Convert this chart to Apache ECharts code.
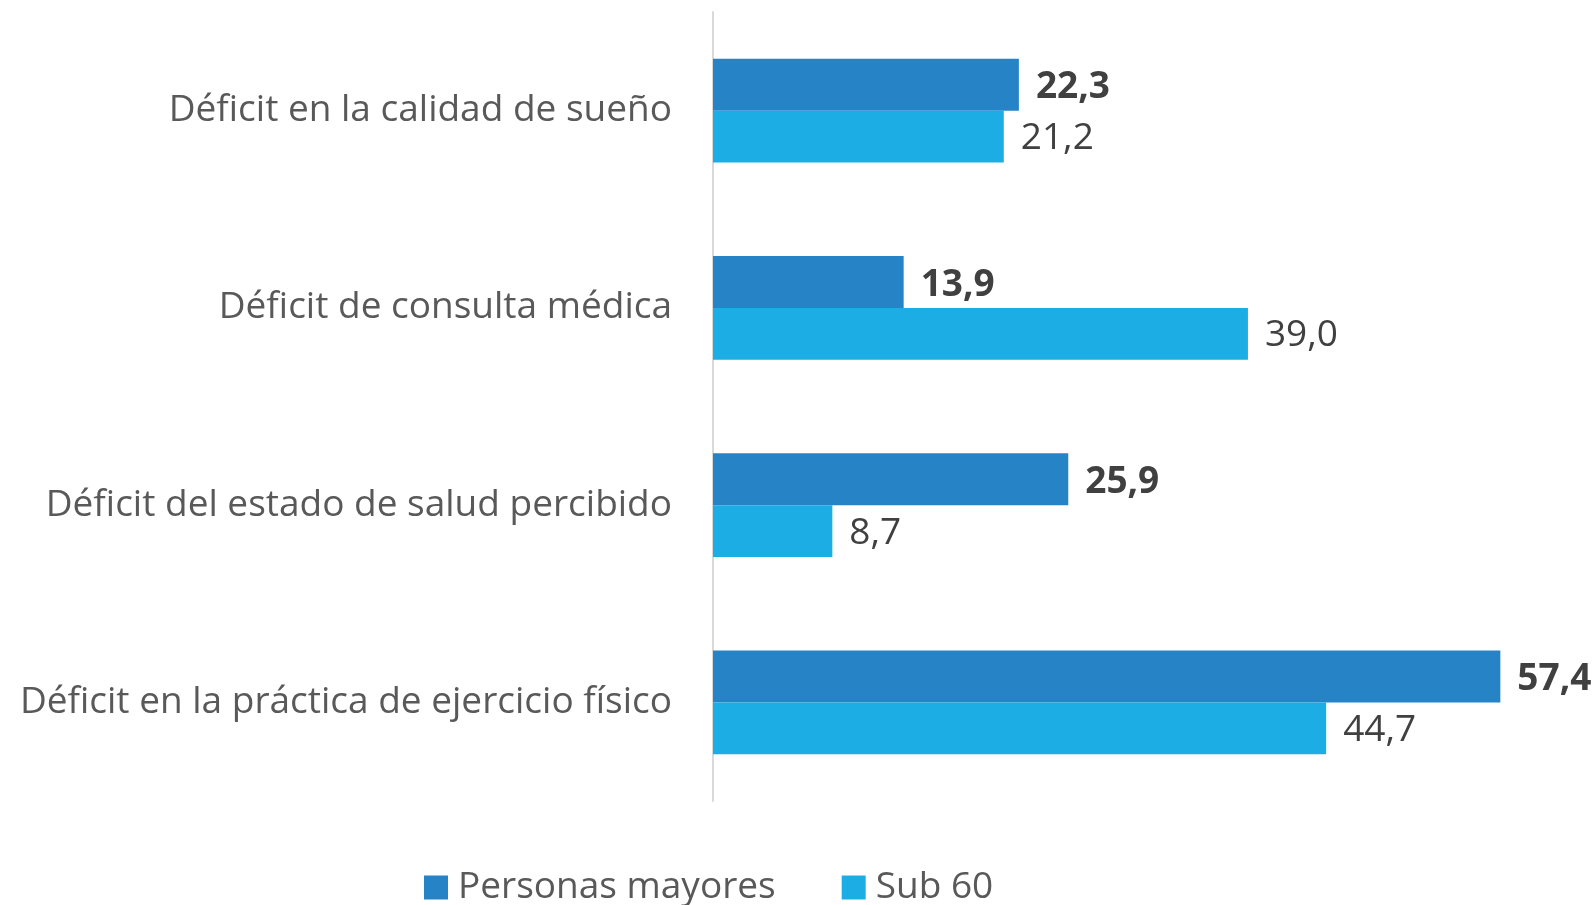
<!DOCTYPE html>
<html><head><meta charset="utf-8">
<script src="https://cdn.jsdelivr.net/npm/echarts@6/dist/echarts.min.js"></script>
<style>html,body{margin:0;padding:0;background:#fff}#c{width:1596px;height:905px}</style>
</head><body><div id="c"></div>
<script>
const categories = ["Déficit en la calidad de sueño","Déficit de consulta médica","Déficit del estado de salud percibido","Déficit en la práctica de ejercicio físico"];
const seriesNames = ["Personas mayores","Sub 60"];
const mayores = [22.3, 13.9, 25.9, 57.4];
const sub60 = [21.2, 39.0, 8.7, 44.7];

const FONT = "'Open Sans', sans-serif";
const fmt = p => p.value.toFixed(1).replace('.', ',');
const chart = echarts.init(document.getElementById('c'));
chart.setOption({
  animation: false,
  textStyle: {fontFamily: FONT},
  grid: {left: 713, right: 60, top: 12, height: 789, containLabel: false},
  xAxis: {type: 'value', min: 0, max: 60, show: false},
  yAxis: {
    type: 'category', data: categories, inverse: true,
    axisLine: {show: true, lineStyle: {color: '#D9D9D9', width: 2}},
    axisTick: {show: false},
    axisLabel: {fontSize: 37, color: '#595959', margin: 41, fontFamily: FONT}
  },
  legend: {
    left: 419, top: 864, itemWidth: 24, itemHeight: 24, itemGap: 66,
    icon: 'rect',
    textStyle: {fontSize: 37, color: '#595959', fontFamily: FONT, padding: [0,0,0,5]},
    data: seriesNames
  },
  series: [
    {name: seriesNames[0], type: 'bar', data: mayores, barGap: '0%', barCategoryGap: '47.5%',
     itemStyle: {color: '#2683C6'},
     label: {show: true, position: 'right', distance: 17, offset: [0, 3], formatter: fmt, fontSize: 37, fontWeight: 'bold', color: '#404040', fontFamily: FONT}},
    {name: seriesNames[1], type: 'bar', data: sub60, barGap: '0%', barCategoryGap: '47.5%',
     itemStyle: {color: '#1CADE4'},
     label: {show: true, position: 'right', distance: 17, offset: [0, 2], formatter: fmt, fontSize: 37, color: '#404040', fontFamily: FONT}}
  ]
});
</script></body></html>
